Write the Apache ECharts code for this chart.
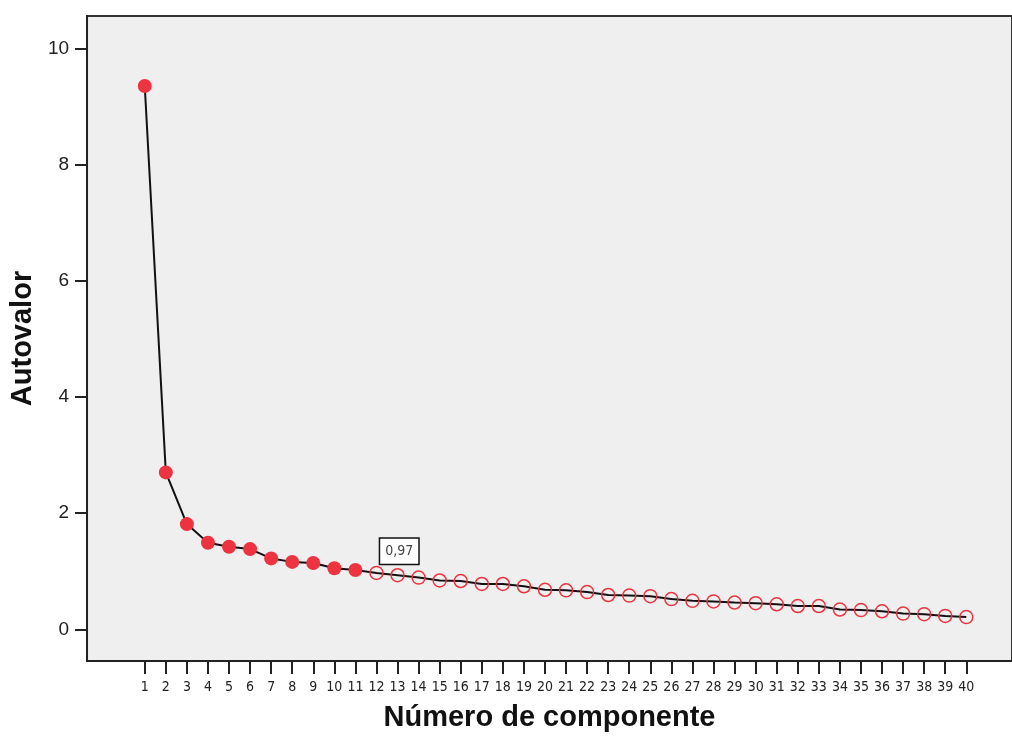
<!DOCTYPE html>
<html>
<head>
<meta charset="utf-8">
<script src="https://cdn.jsdelivr.net/npm/echarts@6/dist/echarts.min.js"></script>
<style>
html,body{margin:0;padding:0;background:#fff;}
#chart{width:1012px;height:737px;}
</style>
</head>
<body>
<div id="chart"></div>
<script>
const components = Array.from({length: 40}, (_, i) => i + 1);
const eigenvalues = [9.35, 2.70, 1.81, 1.49, 1.42, 1.38, 1.22, 1.16, 1.14, 1.05,
  1.02, 0.97, 0.93, 0.89, 0.84, 0.83, 0.78, 0.78, 0.74, 0.68,
  0.67, 0.64, 0.59, 0.58, 0.57, 0.52, 0.49, 0.48, 0.46, 0.45,
  0.43, 0.40, 0.40, 0.34, 0.33, 0.31, 0.27, 0.26, 0.23, 0.21];
const yTicks = [0, 2, 4, 6, 8, 10];
const retained = 11;
const labeledComponent = 12;

const red = '#ee3340';
const data = components.map((c, i) => {
  const item = { value: [c, eigenvalues[i]] };
  if (c <= retained) {
    item.symbolSize = 14;
    item.itemStyle = { color: red, borderWidth: 0 };
  } else {
    item.symbolSize = 13;
    item.itemStyle = { color: 'rgba(0,0,0,0)', borderColor: red, borderWidth: 1.5 };
  }
  if (c === labeledComponent) {
    item.label = {
      show: true,
      position: [11, -27],
      formatter: p => p.value[1].toFixed(2).replace('.', ','),
      color: '#444',
      fontSize: 14,
      fontFamily: 'Liberation Sans Narrow, DejaVu Sans Condensed, Arial, sans-serif',
      backgroundColor: '#fff',
      borderColor: '#111',
      borderWidth: 1.5,
      padding: [6, 5, 5, 5]
    };
  }
  return item;
});

const chart = echarts.init(document.getElementById('chart'), null, {renderer: 'canvas'});
chart.setOption({
  animation: false,
  backgroundColor: '#fff',
  grid: {
    left: 86, top: 16, right: 0, bottom: 76,
    show: true, backgroundColor: '#efefef', borderColor: '#333', borderWidth: 2
  },
  xAxis: {
    type: 'value',
    min: -1.74, max: 42.17,
    name: 'Número de componente',
    nameLocation: 'middle',
    nameGap: 42,
    nameTextStyle: { fontSize: 29, fontWeight: 'bold', color: '#111', fontFamily: 'Liberation Sans, Arial, sans-serif' },
    axisLine: { show: true, onZero: false, lineStyle: { color: '#222', width: 2 } },
    axisTick: { show: true, length: 13, lineStyle: { color: '#222', width: 2 }, customValues: components },
    axisLabel: {
      customValues: components, margin: 19, fontSize: 14, color: '#222',
      fontFamily: 'Liberation Sans Narrow, DejaVu Sans Condensed, Arial, sans-serif',
      hideOverlap: false
    },
    splitLine: { show: false }
  },
  yAxis: {
    type: 'value',
    min: -0.546, max: 10.556,
    name: 'Autovalor',
    nameLocation: 'middle',
    nameGap: 47,
    nameTextStyle: { fontSize: 29, fontWeight: 'bold', color: '#111', fontFamily: 'Liberation Sans, Arial, sans-serif' },
    axisLine: { show: true, onZero: false, lineStyle: { color: '#222', width: 2 } },
    axisTick: { show: true, length: 12, lineStyle: { color: '#222', width: 2 }, customValues: yTicks },
    axisLabel: { customValues: yTicks, margin: 18, fontSize: 19, color: '#222', fontFamily: 'Liberation Sans, Arial, sans-serif' },
    splitLine: { show: false }
  },
  series: [{
    type: 'line',
    data: data,
    symbol: 'circle',
    lineStyle: { color: '#111', width: 2 },
    z: 3
  }]
});
</script>
</body>
</html>
